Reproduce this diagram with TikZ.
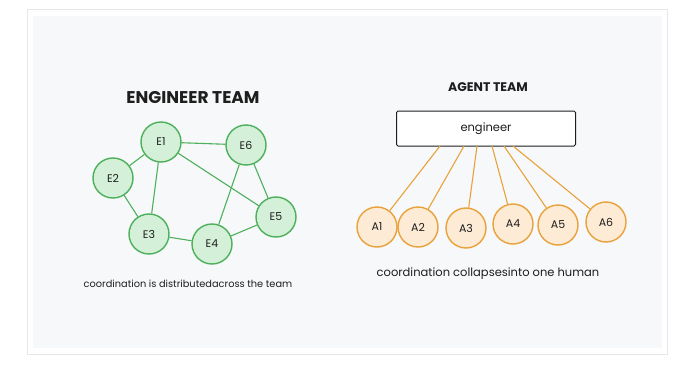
\documentclass[tikz,border=0pt]{standalone}
\usepackage{fontspec}
\setmainfont{Poppins}
\usetikzlibrary{calc}
\definecolor{pagebg}{HTML}{FFFFFF}
\definecolor{panelbg}{HTML}{F7F8F9}
\definecolor{framec}{HTML}{E6E7E9}
\definecolor{gfill}{HTML}{D5F0D8}
\definecolor{gline}{HTML}{4DB05C}
\definecolor{ofill}{HTML}{FDEBD5}
\definecolor{oline}{HTML}{E9A23B}
\definecolor{txt}{HTML}{1E1E1E}
\tikzset{
  enode/.style={circle, draw=gline, fill=gfill, line width=1.4pt, minimum size=40pt, inner sep=0pt, text=txt, font=\fontsize{11}{12}\selectfont},
  anode/.style={circle, draw=oline, fill=ofill, line width=1.4pt, minimum size=40pt, inner sep=0pt, text=txt, font=\fontsize{11}{12}\selectfont},
  elink/.style={draw=gline, line width=1.1pt},
  alink/.style={draw=oline, line width=1.1pt},
  ttl/.style={text=txt, font=\bfseries},
  captxt/.style={text=txt},
}
\begin{document}
\begin{tikzpicture}[x=1pt,y=-1pt]
\useasboundingbox (0,0) rectangle (680,369);
\fill[pagebg] (0,0) rectangle (680,369);
% frame
\fill[framec] (27,9) rectangle (668,355);
\fill[white] (28,10) rectangle (667,354);
\fill[panelbg] (33,16) rectangle (662,348);

% engineer team
\node[ttl, font=\bfseries\fontsize{17}{19}\selectfont] (t1) at (193,98) {ENGINEER TEAM};
\node[enode] (E1) at (161,142) {E1};
\node[enode] (E6) at (246,145) {E6};
\node[enode] (E2) at (113,178) {E2};
\node[enode] (E3) at (149,234) {E3};
\node[enode] (E4) at (212,244) {E4};
\node[enode] (E5) at (276,217) {E5};
\path[elink] (E1) -- (E2);
\path[elink] (E1) -- (E3);
\path[elink] (E1) -- (E6);
\path[elink] (E1) -- (E5);
\path[elink] (E2) -- (E3);
\path[elink] (E3) -- (E4);
\path[elink] (E4) -- (E6);
\path[elink] (E4) -- (E5);
\path[elink] (E6) -- (E5);
\node[captxt, font=\fontsize{9.8}{11}\selectfont] (c1) at (188,284) {coordination is distributedacross the team};

% agent team
\node[ttl, font=\bfseries\fontsize{12.5}{14}\selectfont] (t2) at (488,87) {AGENT TEAM};
\node[draw=txt, fill=white, line width=1pt, rounded corners=1.5pt, minimum width=179pt, minimum height=35pt, text=txt, font=\fontsize{11.5}{12}\selectfont] (eng) at (486,128.5) {engineer};
\node[anode] (A1) at (377,227) {A1};
\node[anode] (A2) at (418,227) {A2};
\node[anode] (A3) at (466,228) {A3};
\node[anode] (A4) at (513,224) {A4};
\node[anode] (A5) at (558,225) {A5};
\node[anode] (A6) at (606,222) {A6};
\coordinate (p1) at (440,146);
\coordinate (p2) at (464,146);
\coordinate (p3) at (477,146);
\coordinate (p4) at (492,146);
\coordinate (p5) at (504,146);
\coordinate (p6) at (513,146);
\path[alink] (p1) -- (A1);
\path[alink] (p2) -- (A2);
\path[alink] (p3) -- (A3);
\path[alink] (p4) -- (A4);
\path[alink] (p5) -- (A5);
\path[alink] (p6) -- (A6);
\node[captxt, font=\fontsize{11.5}{13}\selectfont] (c2) at (488,274) {coordination collapsesinto one human};
\end{tikzpicture}
\end{document}
